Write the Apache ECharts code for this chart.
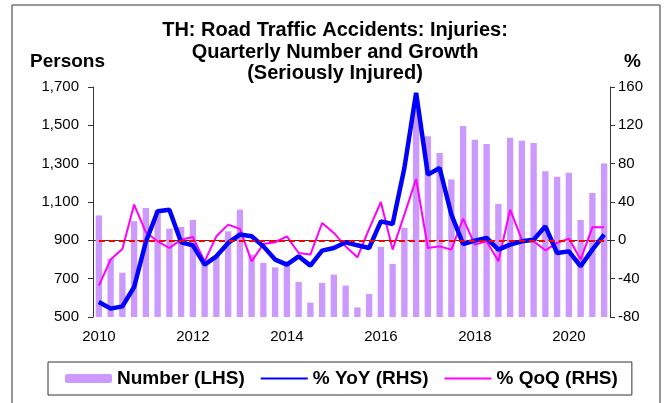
<!DOCTYPE html>
<html>
<head>
<meta charset="utf-8">
<script src="https://cdn.jsdelivr.net/npm/echarts@6/dist/echarts.min.js"></script>
<style>
  html, body { margin: 0; padding: 0; background: #fff; }
  #chart { width: 670px; height: 403px; }
</style>
</head>
<body>
<div id="chart"></div>
<script>
/** 泰国道路交通事故 重伤人数 季度数据 */
var years = ['2010', '2011', '2012', '2013', '2014', '2015', '2016', '2017', '2018', '2019', '2020'];
var quarters = [];
for (var y = 0; y < years.length; y++) {
    for (var q = 1; q <= 4; q++) {
        quarters.push(years[y] + 'Q' + q);
    }
}

// Number (LHS), persons
var numberVals = [
    1030, 805, 731, 1000,
    1069, 1058, 961, 970,
    1006, 786, 815, 947,
    1060, 825, 782, 759,
    790, 683, 575, 678,
    721, 664, 550, 620,
    866, 777, 965, 1580,
    1443, 1356, 1217, 1497,
    1425, 1403, 1090, 1435,
    1420, 1408, 1260, 1232,
    1253, 1006, 1147, 1301
];

// % YoY (RHS)
var yoyVals = [
    -64.3, -71.3, -68.9, -48.7,
    -1.5, 30.3, 32, -2,
    -5.2, -25.4, -16.7, -2.7,
    6, 4.2, -6.3, -20.1,
    -25.4, -16.7, -26.4, -10.7,
    -8, -2, -5.2, -8,
    19.8, 17.1, 75.5, 153.8,
    68.6, 75.5, 26.8, -3.8,
    -0.3, 2.5, -9.7, -4.5,
    -1, 0.7, 14.6, -13.2,
    -11.5, -27.1, -9.7, 5.9
];

// % QoQ (RHS)
var qoqVals = [
    -47.3, -20.1, -9, 37.3,
    8.4, -1, -8, 0.7,
    3.5, -21.9, 4.2, 16.4,
    11.9, -21.9, -3.8, -2,
    4.2, -13.2, -14.9, 18.1,
    7.7, -6.3, -17.7, 12,
    40, -9.7, 26.8, 64,
    -8, -6.3, -9.7, 22.6,
    -4.5, -1, -21.9, 32,
    0.7, -1, -10.4, -2.7,
    1.8, -20.1, 13.6, 13.6
];

var font = 'Arial, "Liberation Sans", sans-serif';

var chart = echarts.init(document.getElementById('chart'));
chart.setOption({
    animation: false,
    backgroundColor: '#fff',
    title: {
        text: 'TH: Road Traffic Accidents: Injuries:\nQuarterly Number and Growth\n(Seriously Injured)',
        left: 'center',
        top: 15,
        textStyle: {
            fontFamily: font,
            fontSize: 20,
            fontWeight: 'bold',
            color: '#000',
            lineHeight: 21.5
        }
    },
    graphic: [
        {
            type: 'rect',
            shape: { x: 12, y: 5, width: 648, height: 420 },
            style: { fill: 'none', stroke: '#333', lineWidth: 1 },
            silent: true
        },
        {
            type: 'text',
            left: 30,
            top: 52,
            style: { text: 'Persons', font: 'bold 19px ' + font, fill: '#000' }
        },
        {
            type: 'text',
            left: 624,
            top: 52,
            style: { text: '%', font: 'bold 19px ' + font, fill: '#000' }
        }
    ],
    legend: {
        left: 48,
        top: 362,
        padding: [7, 14, 7, 17],
        borderColor: '#333',
        borderWidth: 1,
        itemGap: 15,
        itemWidth: 47,
        itemHeight: 9,
        textStyle: {
            fontFamily: font,
            fontSize: 19,
            fontWeight: 'bold',
            color: '#000'
        },
        data: [
            { name: 'Number (LHS)' },
            { name: '% YoY (RHS)', itemStyle: { opacity: 0 } },
            { name: '% QoQ (RHS)', itemStyle: { opacity: 0 } }
        ]
    },
    grid: {
        left: 93,
        right: 60,
        top: 87,
        bottom: 86
    },
    xAxis: {
        type: 'category',
        data: quarters,
        boundaryGap: true,
        axisLine: { lineStyle: { color: '#333' } },
        axisTick: { interval: 3, length: 5, lineStyle: { color: '#333' } },
        axisLabel: {
            interval: 7,
            margin: 12,
            fontFamily: font,
            fontSize: 15,
            color: '#000',
            formatter: function (v) { return v.slice(0, 4); }
        },
        splitLine: { show: false }
    },
    yAxis: [
        {
            type: 'value',
            min: 500,
            max: 1700,
            interval: 200,
            axisLine: { show: true, lineStyle: { color: '#333' } },
            axisTick: { show: true, length: 5, lineStyle: { color: '#333' } },
            axisLabel: {
                margin: 14,
                fontFamily: font,
                fontSize: 15,
                color: '#000',
                formatter: function (v) { return v.toLocaleString('en-US'); }
            },
            splitLine: { show: false }
        },
        {
            type: 'value',
            min: -80,
            max: 160,
            interval: 40,
            axisLine: { show: true, lineStyle: { color: '#333' } },
            axisTick: { show: true, length: 5, lineStyle: { color: '#333' } },
            axisLabel: {
                margin: 8,
                fontFamily: font,
                fontSize: 15,
                color: '#000'
            },
            splitLine: { show: false }
        }
    ],
    series: [
        {
            name: 'Number (LHS)',
            type: 'bar',
            yAxisIndex: 0,
            barWidth: '54%',
            itemStyle: { color: '#CC99FF' },
            data: numberVals
        },
        {
            name: '% YoY (RHS)',
            type: 'line',
            yAxisIndex: 1,
            symbol: 'none',
            lineStyle: { color: '#0000FF', width: 4.5 },
            itemStyle: { color: '#0000FF' },
            data: yoyVals,
            z: 4
        },
        {
            name: '% QoQ (RHS)',
            type: 'line',
            yAxisIndex: 1,
            symbol: 'none',
            lineStyle: { color: '#FF00FF', width: 2 },
            itemStyle: { color: '#FF00FF' },
            data: qoqVals,
            z: 3,
            markLine: {
                silent: true,
                symbol: 'none',
                label: { show: false },
                lineStyle: { color: '#FF0000', type: [6, 4], width: 2 },
                data: [[
                    { coord: [quarters[0], 0] },
                    { coord: [quarters[quarters.length - 1], 0] }
                ]]
            }
        }
    ]
});
</script>
</body>
</html>
